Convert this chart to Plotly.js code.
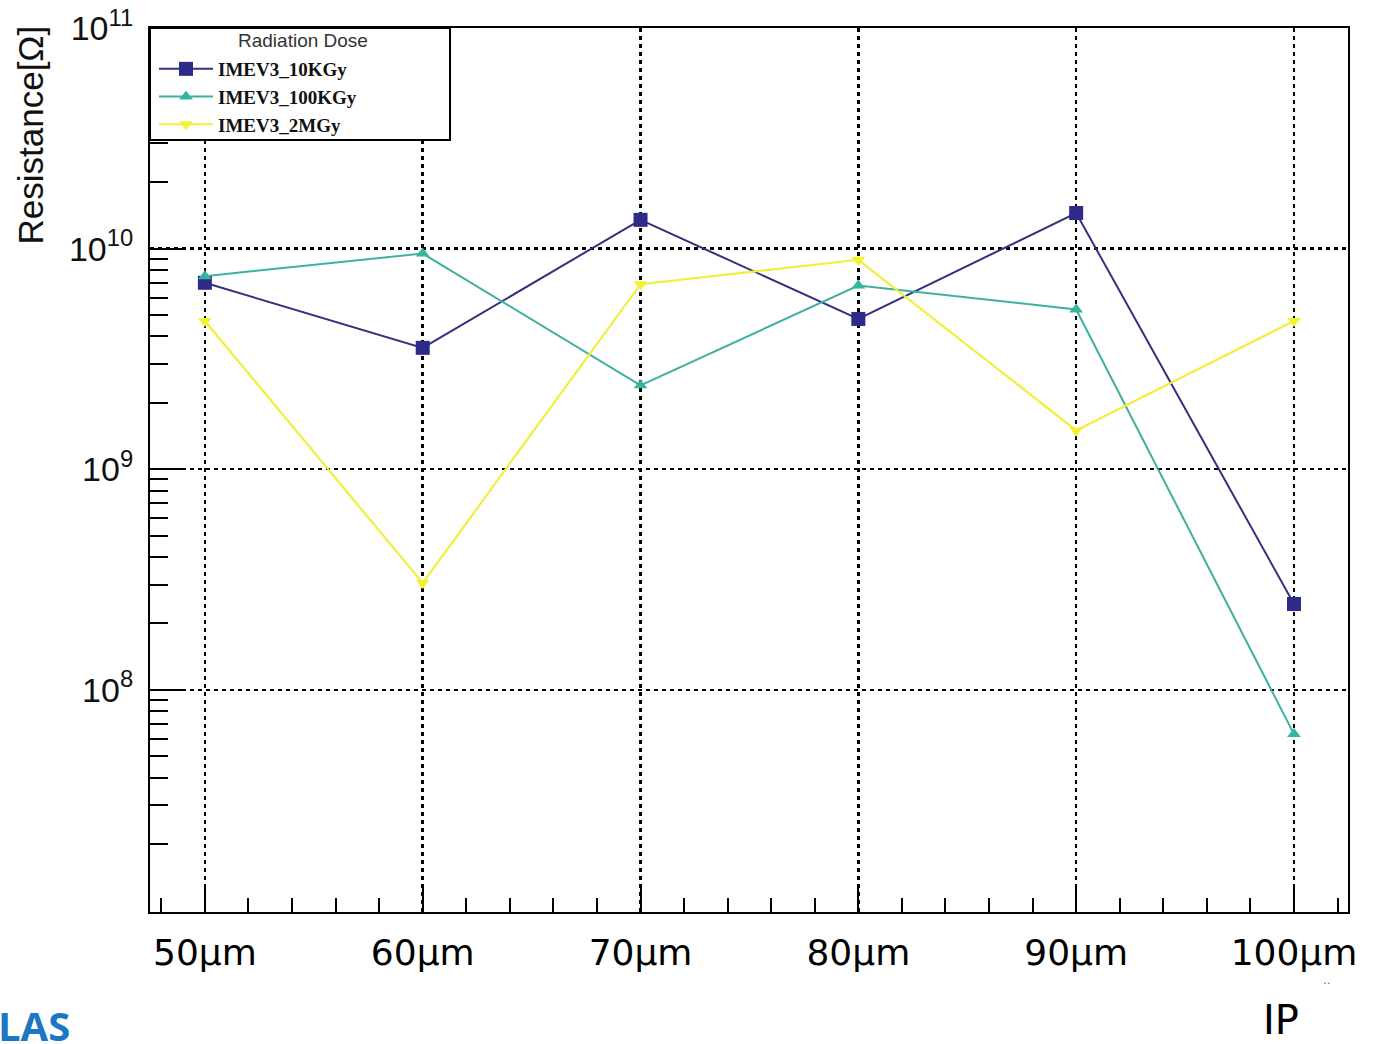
<!DOCTYPE html>
<html>
<head>
<meta charset="utf-8">
<script src="https://cdn.plot.ly/plotly-3.0.1.min.js"></script>
<style>
  html, body { margin: 0; padding: 0; background: #ffffff; }
  #chart { width: 1377px; height: 1044px; }
</style>
</head>
<body>
<div id="chart"></div>
<script>
// Pitch values (µm) and their labels
const pitch = [50, 60, 70, 80, 90, 100];
const pitchLabels = ['50µm', '60µm', '70µm', '80µm', '90µm', '100µm'];

// Measured resistance (Ω) for each radiation dose
const res10KGy  = [7.0e9, 3.55e9, 1.35e10, 4.8e9, 1.45e10, 2.45e8];
const res100KGy = [7.5e9, 9.5e9, 2.4e9, 6.8e9, 5.3e9, 6.3e7];
const res2MGy   = [4.7e9, 3.05e8, 6.9e9, 8.9e9, 1.5e9, 4.7e9];

const seriesNames = ['IMEV3_10KGy', 'IMEV3_100KGy', 'IMEV3_2MGy'];
const legendTitle = 'Radiation Dose';

// Decade ticks, their labels, and the minor ticks in between
const majorY = [1e8, 1e9, 1e10, 1e11];
const majorYText = ['10<sup>8</sup>', '10<sup>9</sup>', '10<sup>10</sup>', '10<sup>11</sup>'];
const minorY = [];
[1e7, 1e8, 1e9, 1e10].forEach(d => { for (let k = 2; k <= 9; k++) minorY.push(k * d); });

const W = 1377, H = 1044;
const M = { l: 150, r: 29, t: 28, b: 132 };
const plotW = W - M.l - M.r, plotH = H - M.t - M.b;
const px = p => (p - M.l) / plotW;
const py = p => (H - M.b - p) / plotH;

const gridDash = '4px,4px';

const traces = [
  {
    x: pitch, y: res10KGy, name: seriesNames[0], type: 'scatter', mode: 'lines+markers',
    line: { color: '#35307e', width: 2 },
    marker: { symbol: 'square', size: 14, color: '#2e2a88' }
  },
  {
    x: pitch, y: res100KGy, name: seriesNames[1], type: 'scatter', mode: 'lines+markers',
    line: { color: '#3fb0a0', width: 2 },
    marker: { symbol: 'triangle-up', size: 12, color: '#36b49f' }
  },
  {
    x: pitch, y: res2MGy, name: seriesNames[2], type: 'scatter', mode: 'lines+markers',
    line: { color: '#f0f03a', width: 2.2 },
    marker: { symbol: 'triangle-down', size: 12, color: '#f2f22e' }
  },
  // carrier for the minor-tick axis
  { x: [], y: [], yaxis: 'y2', showlegend: false, hoverinfo: 'skip', type: 'scatter' }
];

const layout = {
  width: W, height: H,
  margin: M,
  paper_bgcolor: '#ffffff',
  plot_bgcolor: '#ffffff',
  showlegend: true,
  xaxis: {
    range: [47.48, 102.48],
    tickvals: pitch,
    ticktext: pitchLabels,
    ticks: 'inside', ticklen: 27, tickwidth: 2, tickcolor: '#000',
    ticklabelstandoff: 8,
    tickfont: { family: 'DejaVu Sans', size: 36, color: '#000' },
    showline: true, linecolor: '#000', linewidth: 2, mirror: true,
    showgrid: true, gridcolor: '#000', gridwidth: 2.5, griddash: gridDash,
    zeroline: false,
    minor: { dtick: 2, tick0: 0, ticks: 'inside', ticklen: 14, tickwidth: 2, tickcolor: '#000', showgrid: false }
  },
  yaxis: {
    type: 'log',
    range: [6.993, 11],
    tickvals: majorY,
    ticktext: majorYText,
    ticks: 'inside', ticklen: 35, tickwidth: 2, tickcolor: '#000',
    ticklabelstandoff: 8,
    tickfont: { family: 'Liberation Sans', size: 34, color: '#111' },
    showline: true, linecolor: '#000', linewidth: 2, mirror: true,
    showgrid: true, gridcolor: '#000', gridwidth: 2.5, griddash: gridDash,
    zeroline: false
  },
  yaxis2: {
    type: 'log',
    range: [6.993, 11],
    overlaying: 'y', anchor: 'x', side: 'left',
    tickvals: minorY,
    ticks: 'inside', ticklen: 18, tickwidth: 2, tickcolor: '#000',
    showticklabels: false, showgrid: false, showline: false, zeroline: false
  },
  legend: {
    x: px(154), y: py(50), xanchor: 'left', yanchor: 'top',
    bgcolor: 'rgba(0,0,0,0)', borderwidth: 0,
    font: { family: 'Liberation Serif', size: 19, weight: 'bold', color: '#111' },
    itemwidth: 54,
    tracegroupgap: 0
  },
  // legend frame
  shapes: [
    {
      type: 'rect', xref: 'paper', yref: 'paper', layer: 'above',
      x0: 0, x1: px(450), y0: py(140), y1: 1,
      line: { color: '#000', width: 2 }, fillcolor: '#ffffff'
    }
  ],
  annotations: [
    {
      text: legendTitle, xref: 'paper', yref: 'paper', x: px(303), y: py(41),
      xanchor: 'center', yanchor: 'middle', showarrow: false,
      font: { family: 'Liberation Sans', size: 19, color: '#333' }
    },
    {
      text: 'Resistance[Ω]', textangle: -90,
      xref: 'paper', yref: 'paper', x: px(30), y: py(24),
      xanchor: 'center', yanchor: 'top', showarrow: false,
      font: { family: 'Liberation Sans', size: 35, color: '#111' }
    },
    {
      text: 'IP', xref: 'paper', yref: 'paper', x: px(1281), y: py(1020),
      xanchor: 'center', yanchor: 'middle', showarrow: false,
      font: { family: 'DejaVu Sans', size: 40, color: '#000' }
    },
    {
      text: '..', xref: 'paper', yref: 'paper', x: px(1327), y: py(980),
      xanchor: 'center', yanchor: 'middle', showarrow: false,
      font: { family: 'DejaVu Sans', size: 12, color: '#777' }
    },
    {
      text: '<b>LAS</b>', xref: 'paper', yref: 'paper', x: px(-4), y: py(996),
      xanchor: 'left', yanchor: 'top', showarrow: false,
      font: { family: 'Open Sans', size: 40, color: '#1b77c2' }
    }
  ]
};

Plotly.newPlot('chart', traces, layout, { displayModeBar: false, staticPlot: true });
</script>
</body>
</html>
